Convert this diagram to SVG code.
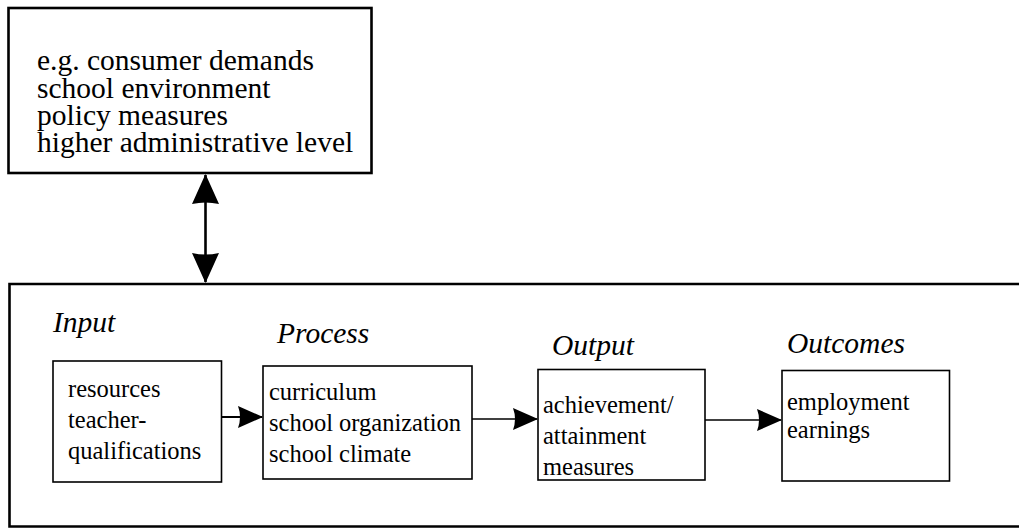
<svg xmlns="http://www.w3.org/2000/svg" width="1019" height="529" viewBox="0 0 1019 529">
<style>
.txt{font-family:"Liberation Serif","Times New Roman",serif;font-size:24.5px;fill:#000}
.big{font-size:29.5px}
.lbl{font-family:"Liberation Serif","Times New Roman",serif;font-size:29.5px;font-style:italic;fill:#000}
.outer{fill:none;stroke:#000;stroke-width:2.6}
.inner{fill:#fff;stroke:#000;stroke-width:1.6}
.con{fill:none;stroke:#000;stroke-width:1.6}
.conv{fill:none;stroke:#000;stroke-width:2.6}
</style>
<defs>
<marker id="ah" markerUnits="userSpaceOnUse" markerWidth="25" markerHeight="22" viewBox="0 0 25 22" refX="24" refY="11" orient="auto">
<path d="M0,0 L25,11 L0,22 Q4,11 0,0 z" fill="#000"/>
</marker>
<marker id="ahv" markerUnits="userSpaceOnUse" markerWidth="30" markerHeight="27" viewBox="0 0 30 27" refX="29" refY="13.5" orient="auto-start-reverse">
<path d="M0,0 L30,13.5 L0,27 Q3,13.5 0,0 z" fill="#000"/>
</marker>
</defs>
<rect width="1019" height="529" fill="#fff"/>

<g id="context">
<rect class="outer" x="8.5" y="8" width="363" height="165"/>
<text class="txt big" x="37" y="70">e.g. consumer demands</text>
<text class="txt big" x="37" y="97.5">school environment</text>
<text class="txt big" x="37" y="124.5">policy measures</text>
<text class="txt big" x="37" y="152">higher administrative level</text>
</g>

<g id="school">
<path class="outer" d="M1022,284 H9.5 V526.5 H1022"/>
</g>

<g id="input">
<text class="lbl" x="53" y="332">Input</text>
<rect class="inner" x="53" y="361" width="168.5" height="121"/>
<text class="txt" x="68" y="397">resources</text>
<text class="txt" x="68" y="428">teacher-</text>
<text class="txt" x="68" y="459">qualifications</text>
</g>

<g id="process">
<text class="lbl" x="277" y="343">Process</text>
<rect class="inner" x="263" y="366" width="209" height="113"/>
<text class="txt" x="269" y="400">curriculum</text>
<text class="txt" x="269" y="431">school organization</text>
<text class="txt" x="269" y="462">school climate</text>
</g>

<g id="output">
<text class="lbl" x="552" y="355">Output</text>
<rect class="inner" x="538" y="369.5" width="167" height="110.5"/>
<text class="txt" x="543" y="413">achievement/</text>
<text class="txt" x="543" y="444">attainment</text>
<text class="txt" x="543" y="475">measures</text>
</g>

<g id="outcomes">
<text class="lbl" x="787" y="353">Outcomes</text>
<rect class="inner" x="782" y="370.5" width="167.5" height="110.5"/>
<text class="txt" x="787" y="410">employment</text>
<text class="txt" x="787" y="438">earnings</text>
</g>

<g id="connectors">
<line class="conv" x1="205.5" y1="175" x2="205.5" y2="282" marker-start="url(#ahv)" marker-end="url(#ahv)"/>
<line class="con" x1="221.5" y1="417" x2="262" y2="417" marker-end="url(#ah)" style="stroke-width:2.2"/>
<line class="con" x1="472" y1="419" x2="537" y2="419" marker-end="url(#ah)"/>
<line class="con" x1="705" y1="420" x2="781" y2="420" marker-end="url(#ah)"/>
</g>
</svg>
